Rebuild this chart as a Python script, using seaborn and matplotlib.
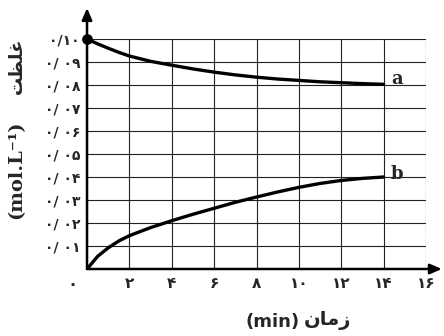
import matplotlib
matplotlib.use('Agg')
import matplotlib.pyplot as plt
import seaborn as sns
import pandas as pd

# time (min) and concentration (mol/L)
times = [0, 0.5, 1, 1.5, 2, 3, 4, 5, 6, 7, 8, 9, 10, 11, 12, 13, 14]
conc_a = [0.100, 0.0979, 0.0960, 0.0942, 0.0926, 0.0903, 0.0886, 0.0870, 0.0856,
          0.0844, 0.0834, 0.0826, 0.0820, 0.0814, 0.0810, 0.0806, 0.0803]
conc_b = [0.000, 0.0055, 0.0092, 0.0122, 0.0145, 0.0180, 0.0210, 0.0238, 0.0264,
          0.0290, 0.0313, 0.0335, 0.0355, 0.0372, 0.0385, 0.0394, 0.0400]

fa = '۰۱۲۳۴۵۶۷۸۹'
def fa_num(s):
    return ''.join(fa[int(c)] if c.isdigit() else c for c in s)

x_ticks = [2, 4, 6, 8, 10, 12, 14, 16]
y_ticks = [0.01, 0.02, 0.03, 0.04, 0.05, 0.06, 0.07, 0.08, 0.09, 0.10]
x_labels = [fa_num(str(v)) for v in x_ticks]
y_labels = [fa_num('0/ 0%d' % i) for i in range(1, 10)] + [fa_num('0/10')]

# Arabic text in visual order with presentation forms (matplotlib does no shaping)
ylab_fa = '\uFE96\uFEC8\uFEE0\uFECF'   # غلظت
xlab_fa = '\uFEE5\uFE8E\uFEE3\uFEAF'   # زمان

df = pd.DataFrame({
    'time': times * 2,
    'conc': conc_a + conc_b,
    'curve': ['a'] * len(times) + ['b'] * len(times),
})

sns.set_style('white')
plt.rcParams['font.family'] = ['DejaVu Sans']

fig = plt.figure(figsize=(4.44, 3.36), dpi=100)
ax = fig.add_axes([0.196, 0.1994, 0.7635, 0.6845])

sns.lineplot(data=df, x='time', y='conc', hue='curve',
             palette={'a': 'black', 'b': 'black'}, linewidth=2.4,
             legend=False, ax=ax)
ax.scatter([times[0]], [conc_a[0]], s=45, color='black', zorder=5, clip_on=False)

ax.set_xlim(0, 16)
ax.set_ylim(0, 0.10)
ax.set_xticks(x_ticks)
ax.set_xticklabels(x_labels, fontsize=11, fontweight='bold')
ax.set_yticks(y_ticks)
ax.set_yticklabels(y_labels, fontsize=10, fontweight='bold')
ax.tick_params(length=0, pad=5)
ax.grid(True, color='#222222', linewidth=0.8)
ax.set_xlabel('')
ax.set_ylabel('')
for s in ax.spines.values():
    s.set_visible(False)

# axes with arrow heads
ax.annotate('', xy=(16.75, 0), xytext=(0, 0), xycoords='data',
            arrowprops=dict(arrowstyle='-|>,head_length=0.7,head_width=0.3',
                            color='black', lw=1.8, shrinkA=0, shrinkB=0),
            annotation_clip=False)
ax.annotate('', xy=(0, 0.1135), xytext=(0, 0), xycoords='data',
            arrowprops=dict(arrowstyle='-|>,head_length=0.7,head_width=0.3',
                            color='black', lw=1.8, shrinkA=0, shrinkB=0),
            annotation_clip=False)

ax.text(-0.7, -0.0065, fa_num('0'), fontsize=12, fontweight='bold',
        ha='center', va='center', clip_on=False)

ax.text(14.35, 0.0825, 'a', fontsize=13, fontweight='bold', family='DejaVu Serif',
        ha='left', va='center')
ax.text(14.35, 0.0415, 'b', fontsize=13, fontweight='bold', family='DejaVu Serif',
        ha='left', va='center')

# y label
fig.text(0.037, 0.495, '(mol.L⁻¹)', rotation=90, fontsize=14, fontweight='bold',
         family='DejaVu Serif', ha='center', va='center')
fig.text(0.037, 0.805, ylab_fa, rotation=90, fontsize=13, fontweight='bold',
         ha='center', va='center')

# x label
fig.text(0.675, 0.042, '(min)', fontsize=13, fontweight='bold',
         ha='right', va='center')
fig.text(0.685, 0.047, xlab_fa, fontsize=14, fontweight='bold',
         ha='left', va='center')

fig.savefig('out.png', dpi=100)
